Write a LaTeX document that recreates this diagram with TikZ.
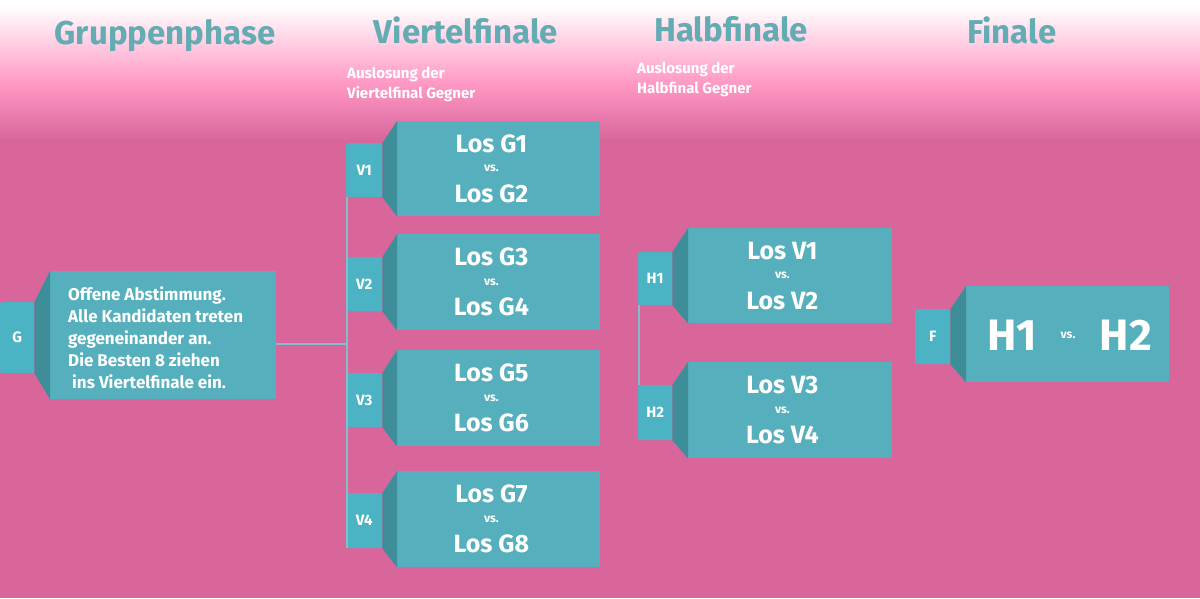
\documentclass[tikz,border=0pt]{standalone}
\usepackage{fontspec}
\setmainfont{Fira Sans}
\usetikzlibrary{calc}
\definecolor{bgpink}{HTML}{D9669A}
\definecolor{midpink}{HTML}{FF98C4}
\definecolor{boxc}{HTML}{56AFBD}
\definecolor{tabc}{HTML}{4BB3C4}
\definecolor{sidec}{HTML}{3E8E99}
\definecolor{titlec}{HTML}{64ACB3}
\definecolor{connc}{HTML}{7FBFCB}
\newcommand\stagebox[9]{%
  \node[mainbox, minimum width={#8-#6}, minimum height={#9-#7}, anchor=north west] (#1) at (#6,#7) {};
  \node[tabbox, minimum width={#4-#2}, minimum height={#5-#3}, anchor=north west] (#1t) at (#2,#3) {};
  \fill[sidec] (#1.north west) -- (#1t.north east) -- (#1t.south east) -- (#1.south west) -- cycle;
}
\begin{document}
\begin{tikzpicture}[x=1pt,y=-1pt,
  mainbox/.style={fill=boxc, inner sep=0pt, draw=none},
  tabbox/.style={fill=tabc, inner sep=0pt, draw=none, rounded corners=2pt},
  titletxt/.style={text=titlec, font=\fontsize{33}{36}\selectfont\bfseries, anchor=base},
  subtxt/.style={text=white, font=\fontsize{15}{19.5}\selectfont\bfseries, align=left, anchor=north west, inner sep=0pt},
  gtxt/.style={text=white, font=\fontsize{17}{21.8}\selectfont\bfseries, align=left, anchor=north west, inner sep=0pt},
  tablbl/.style={text=white, font=\fontsize{15}{18}\selectfont\bfseries},
  bigtxt/.style={text=white, font=\fontsize{25}{28}\selectfont\bfseries},
  hugetxt/.style={text=white, font=\fontsize{44}{48}\selectfont\bfseries},
  vstxt/.style={text=white, font=\fontsize{12}{14}\selectfont\bfseries},
  conn/.style={draw=connc, line width=2pt}]
\useasboundingbox (0,0) rectangle (1200,598);
% background
\fill[bgpink] (0,0) rectangle (1200,598);
\fill[white] (0,0) rectangle (1200,6);
\shade[top color=white, bottom color=midpink] (0,6) rectangle (1200,84);
\shade[top color=midpink, bottom color=bgpink] (0,84) rectangle (1200,140);
% titles
\node[titletxt] (t1) at (165,44) {Gruppenphase};
\node[titletxt] (t2) at (466,43) {Viertelfinale};
\node[titletxt] (t3) at (731,41) {Halbfinale};
\node[titletxt] (t4) at (1012,43) {Finale};
\node[subtxt] (s1) at (347,67) {Auslosung der\\Viertelfinal Gegner};
\node[subtxt] (s2) at (637,62) {Auslosung der\\Halbfinal Gegner};
% boxes
\stagebox{G}{0}{302}{34}{373}{50}{271}{276}{399}
\stagebox{V1}{346}{143}{382}{197}{397}{121}{600}{216}
\stagebox{V2}{346}{257}{382}{311}{397}{234}{600}{330}
\stagebox{V3}{346}{373}{382}{427}{397}{350}{600}{446}
\stagebox{V4}{346}{493}{382}{548}{397}{471}{600}{567}
\stagebox{H1}{638}{252}{672}{305}{688}{228}{892}{323}
\stagebox{H2}{638}{385}{672}{440}{688}{362}{892}{458}
\stagebox{F}{915}{309}{950}{364}{966}{286}{1169}{382}
% connectors
\coordinate (gout) at ($(G.east)+(0,9)$);
\coordinate (vtop) at ($(V1t.south west)+(1,0)$);
\coordinate (vbot) at ($(V4t.south west)+(1,0)$);
\draw[conn] (gout) -- (gout -| vtop);
\draw[conn] (vtop) -- (vbot);
\coordinate (htop) at ($(H1t.south west)+(1,0)$);
\coordinate (hbot) at ($(H2t.north west)+(1,0)$);
\draw[conn] (htop) -- (hbot);
% tab labels
\node[tablbl] (lG) at (Gt) {G};
\node[tablbl] (lV1) at (V1t) {V1};
\node[tablbl] (lV2) at (V2t) {V2};
\node[tablbl] (lV3) at (V3t) {V3};
\node[tablbl] (lV4) at (V4t) {V4};
\node[tablbl] (lH1) at (H1t) {H1};
\node[tablbl] (lH2) at (H2t) {H2};
\node[tablbl] (lF) at (Ft) {F};
% G text
\node[gtxt] (gtext) at (68,287) {Offene Abstimmung.\\Alle Kandidaten treten\\gegeneinander an.\\Die Besten 8 ziehen\\\hspace{4pt}ins Viertelfinale ein.};
% match texts
\foreach \b/\a/\c in {V1/Los G1/Los G2, V2/Los G3/Los G4, V3/Los G5/Los G6, V4/Los G7/Los G8, H1/Los V1/Los V2, H2/Los V3/Los V4}{
  \coordinate (\b c) at ($(\b t.east |- \b.center)!0.5!(\b.east)$);
  \node[bigtxt] (\b a) at ($(\b c)+(0,-25)$) {\a};
  \node[vstxt] (\b v) at (\b c) {vs.};
  \node[bigtxt] (\b b) at ($(\b c)+(0,25)$) {\c};
}
\node[hugetxt] (fa) at (1012,335) {H1};
\node[vstxt] (fv) at (1068,335) {vs.};
\node[hugetxt] (fb) at (1126,335) {H2};
\end{tikzpicture}
\end{document}
